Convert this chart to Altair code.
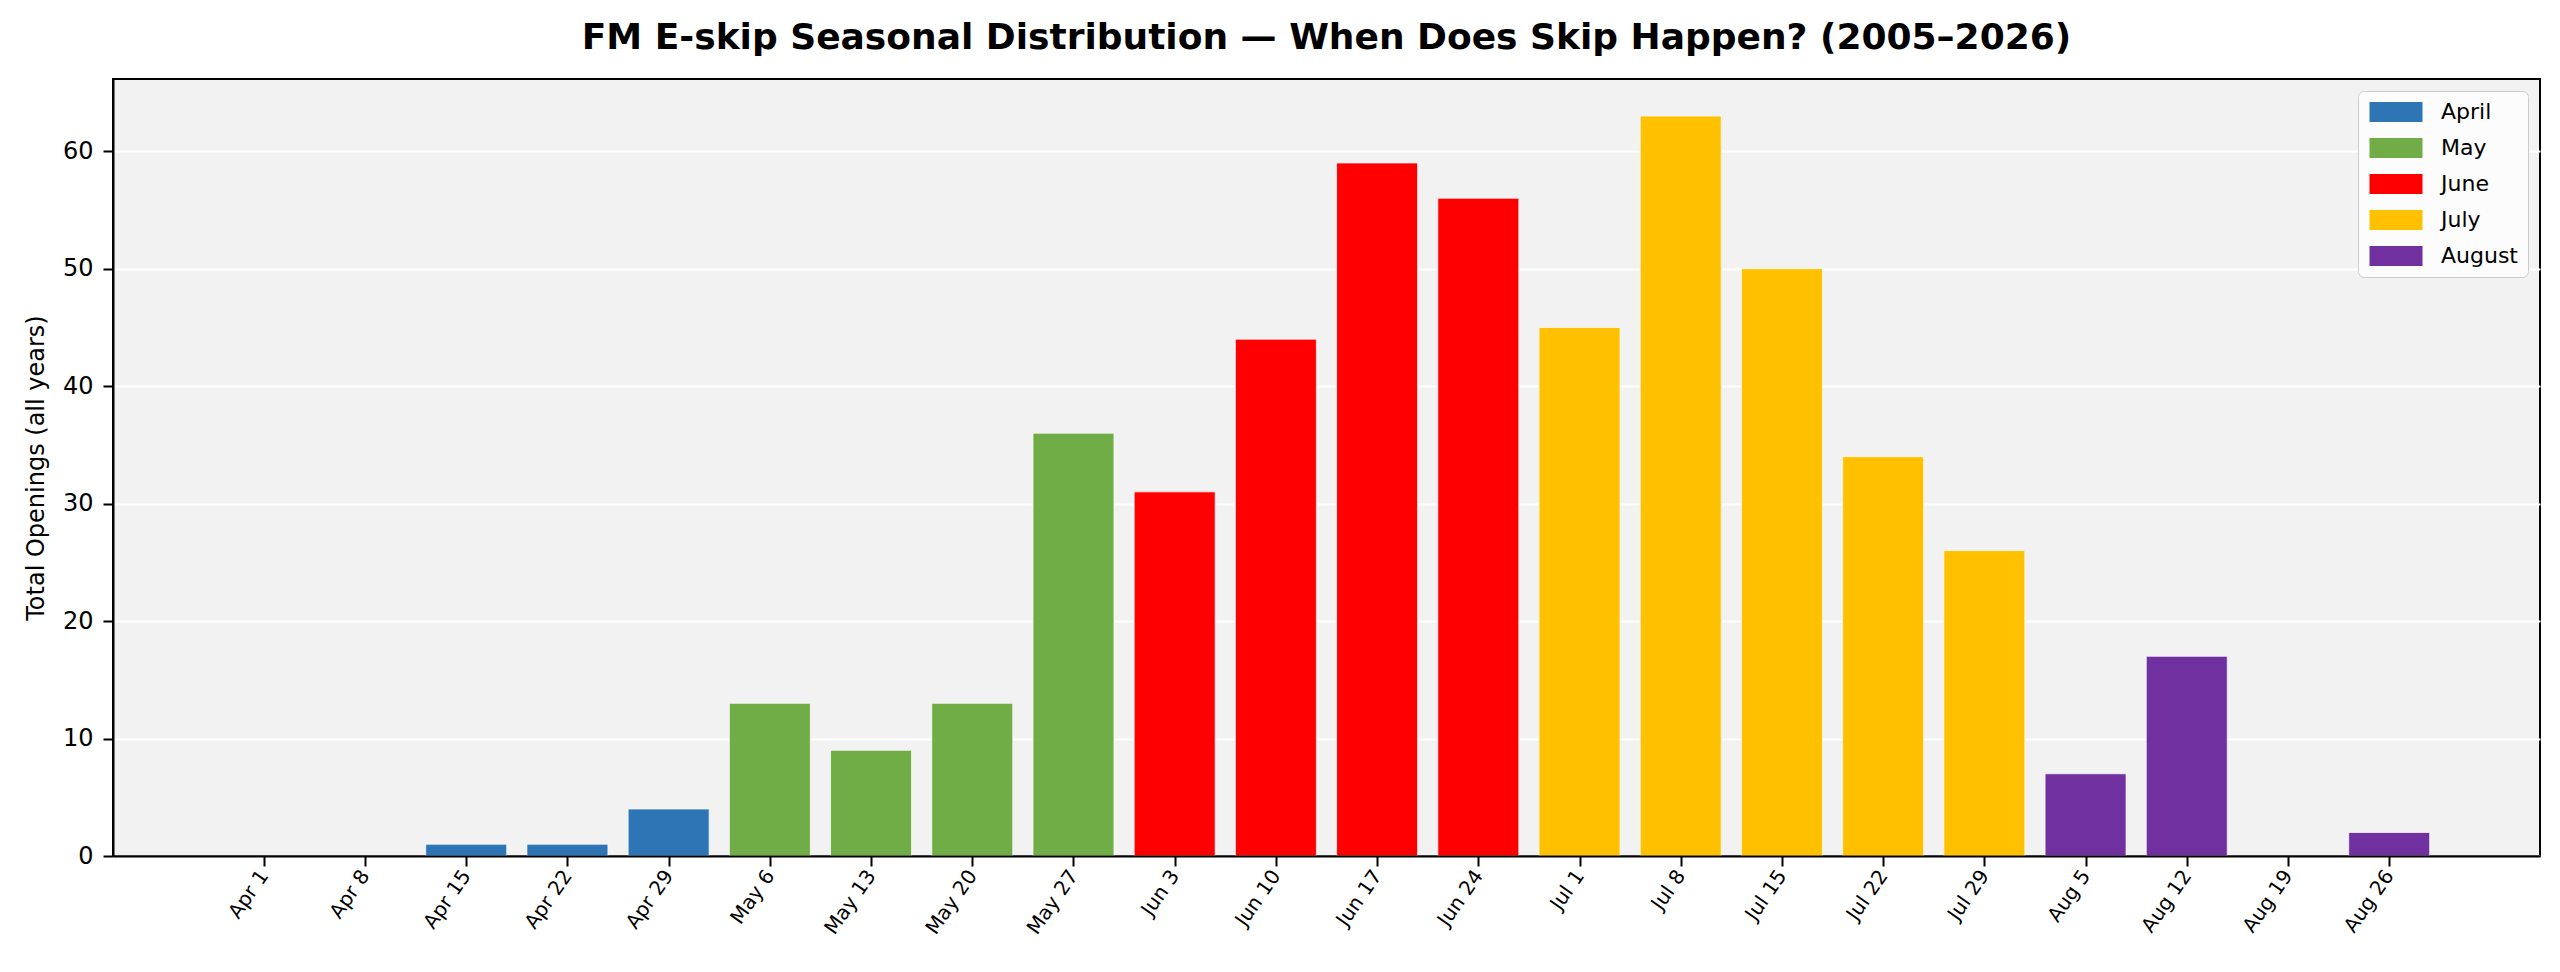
import altair as alt
import pandas as pd

weeks = [
    "Apr 1", "Apr 8", "Apr 15", "Apr 22", "Apr 29",
    "May 6", "May 13", "May 20", "May 27",
    "Jun 3", "Jun 10", "Jun 17", "Jun 24",
    "Jul 1", "Jul 8", "Jul 15", "Jul 22", "Jul 29",
    "Aug 5", "Aug 12", "Aug 19", "Aug 26",
]
openings = [0, 0, 1, 1, 4, 13, 9, 13, 36, 31, 44, 59, 56, 45, 63, 50, 34, 26, 7, 17, 0, 2]
week_month = (["April"] * 5 + ["May"] * 4 + ["June"] * 4 + ["July"] * 5 + ["August"] * 4)

month_names = ["April", "May", "June", "July", "August"]
month_colors = ["#2E75B6", "#70AD47", "#FF0000", "#FFC000", "#7030A0"]
y_ticks = [0, 10, 20, 30, 40, 50, 60]

df = pd.DataFrame({"week": weeks, "openings": openings, "month": week_month})
df["pos"] = range(len(weeks))

font = "DejaVu Sans"
label_js = "[" + ",".join(f"'{w}'" for w in weeks) + "][datum.value]"

bars = (
    alt.Chart(df)
    .transform_filter("datum.openings > 0")
    .transform_calculate(left="datum.pos - 0.4", right="datum.pos + 0.4")
    .mark_bar(stroke="white", strokeWidth=1, strokeOpacity=0.7)
    .encode(
        x=alt.X(
            "left:Q",
            scale=alt.Scale(domain=[-1.49, len(weeks) - 1 + 1.49], nice=False, zero=False),
            axis=alt.Axis(
                title=None,
                values=list(range(len(weeks))),
                labelExpr=label_js,
                labelAngle=305,
                labelFontSize=20,
                labelPadding=6,
                tickSize=10,
                tickWidth=2,
                domainWidth=2,
                grid=False,
                zindex=1,
            ),
        ),
        x2="right:Q",
        y=alt.Y(
            "openings:Q",
            scale=alt.Scale(domain=[0, 66.15], nice=False),
            axis=alt.Axis(
                values=y_ticks,
                title="Total Openings (all years)",
                titleFontSize=24,
                titleFontWeight="normal",
                titlePadding=14,
                labelFontSize=24,
                labelPadding=10,
                tickSize=10,
                tickWidth=2,
                domainWidth=2,
                grid=True,
                gridColor="white",
                gridWidth=2,
            ),
        ),
        y2=alt.datum(0),
        color=alt.Color(
            "month:N",
            title=None,
            scale=alt.Scale(domain=month_names, range=month_colors),
            legend=alt.Legend(
                orient="top-right",
                offset=12,
                fillColor="#FCFCFC",
                strokeColor="#CCCCCC",
                cornerRadius=6,
                padding=10,
                labelFontSize=22,
                labelFont=font,
                symbolType="M-2.65,-1H2.65V1H-2.65Z",
                symbolSize=400,
                symbolStrokeWidth=0,
                symbolOpacity=1,
                symbolOffset=17,
                labelOffset=34,
                rowPadding=14,
            ),
        ),
    )
)

chart = (
    bars.properties(
        width=2427,
        height=777,
        autosize=alt.AutoSizeParams(type="none"),
        padding={"left": 105, "top": 71, "right": 12, "bottom": 108},
        title=alt.TitleParams(
            "FM E-skip Seasonal Distribution — When Does Skip Happen? (2005–2026)",
            font=font,
            fontSize=36,
            fontWeight="bold",
            anchor="middle",
            offset=22,
            color="black",
        ),
    )
    .configure_view(fill="#F2F2F2", stroke="black", strokeWidth=2)
    .configure_axis(
        labelFont=font,
        titleFont=font,
        labelColor="black",
        titleColor="black",
        domainColor="black",
        tickColor="black",
    )
)

chart.save("out.html", embed_options={"renderer": "svg", "actions": False})
